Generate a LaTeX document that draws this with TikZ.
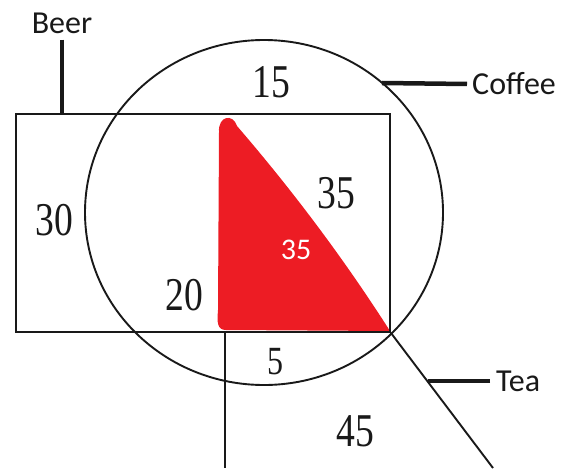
\documentclass[tikz,border=0pt]{standalone}
\usepackage{fontspec}
\usepackage{tikz}
\usetikzlibrary{shapes.geometric, calc}
\setmainfont{Liberation Serif}
\newfontfamily\numfont[FakeStretch=0.8]{Liberation Serif}
\newfontfamily\tagfont{Carlito}
\definecolor{inkdark}{RGB}{25,25,25}
\definecolor{paintred}{RGB}{237,28,36}
\tikzset{
  frame/.style={draw=inkdark, line width=1.9pt},
  leader/.style={draw=inkdark, line width=4.5pt},
  tag/.style={font=\tagfont\fontsize{32}{32}\selectfont, text=inkdark, inner sep=0pt},
  count/.style={font=\numfont\fontsize{47}{47}\selectfont, text=inkdark, inner sep=0pt},
  smallcount/.style={font=\numfont\fontsize{40}{40}\selectfont, text=inkdark, inner sep=0pt},
  redcount/.style={font=\tagfont\fontsize{30}{30}\selectfont, text=white, inner sep=0pt}
}

\begin{document}
\begin{tikzpicture}[x=1pt, y=-1pt]
  \useasboundingbox (0,0) rectangle (564,468);

  % ── Red region (drawn first, lines go over it) ───────────────────────────
  \fill[paintred] (219,132) .. controls (218,116) and (233,113) .. (237,126)
    .. controls (293,191) and (344,259) .. (390,331)
    -- (226,330) .. controls (217,330) and (217,322) .. (218,310) -- cycle;

  % ── Beer box and Coffee circle ──────────────────────────────────────────
  \node[frame, minimum width=374pt, minimum height=218pt, inner sep=0pt]
       (box) at (203,223) {};
  \node[ellipse, frame, minimum width=358pt, minimum height=345pt, inner sep=0pt]
       (cup) at (264,212.5) {};

  % ── Tea lines (two strokes leaving the box) ─────────────────────────────
  \coordinate (root) at (225,468);
  \coordinate (stem) at (493,468);
  \draw[frame] (root |- box.south) -- (root);
  \draw[frame] (box.south east) -- (stem);

  % ── Labels with their leaders ────────────────────────────────────────────
  \node[tag] (beer) at (62,23) {Beer};
  \draw[leader] ([yshift=-6pt]beer.south) -- (beer.south |- box.north);

  \node[tag, anchor=west] (coffee) at (472,84) {Coffee};
  \coordinate (cuptip) at (382,83);
  \draw[leader] ([xshift=-5pt]coffee.west) -- (cuptip);

  \node[tag, anchor=west] (tea) at (496,381) {Tea};
  \coordinate (teafoot) at ($(box.south east)!0.36!(stem)$);
  \draw[leader] ([xshift=-6pt]tea.west) -- (teafoot |- tea.west);

  % ── Counts ───────────────────────────────────────────────────────────────
  \node[count] (n15) at (271,82) {15};
  \node[count] (n30) at (54,220) {30};
  \node[count] (n35) at (336,193) {35};
  \node[redcount] (nred) at (296,250) {35};
  \node[count] (n20) at (184,295) {20};
  \node[smallcount] (n5) at (275,362) {5};
  \node[count] (n45) at (355,431) {45};

\end{tikzpicture}
\end{document}
